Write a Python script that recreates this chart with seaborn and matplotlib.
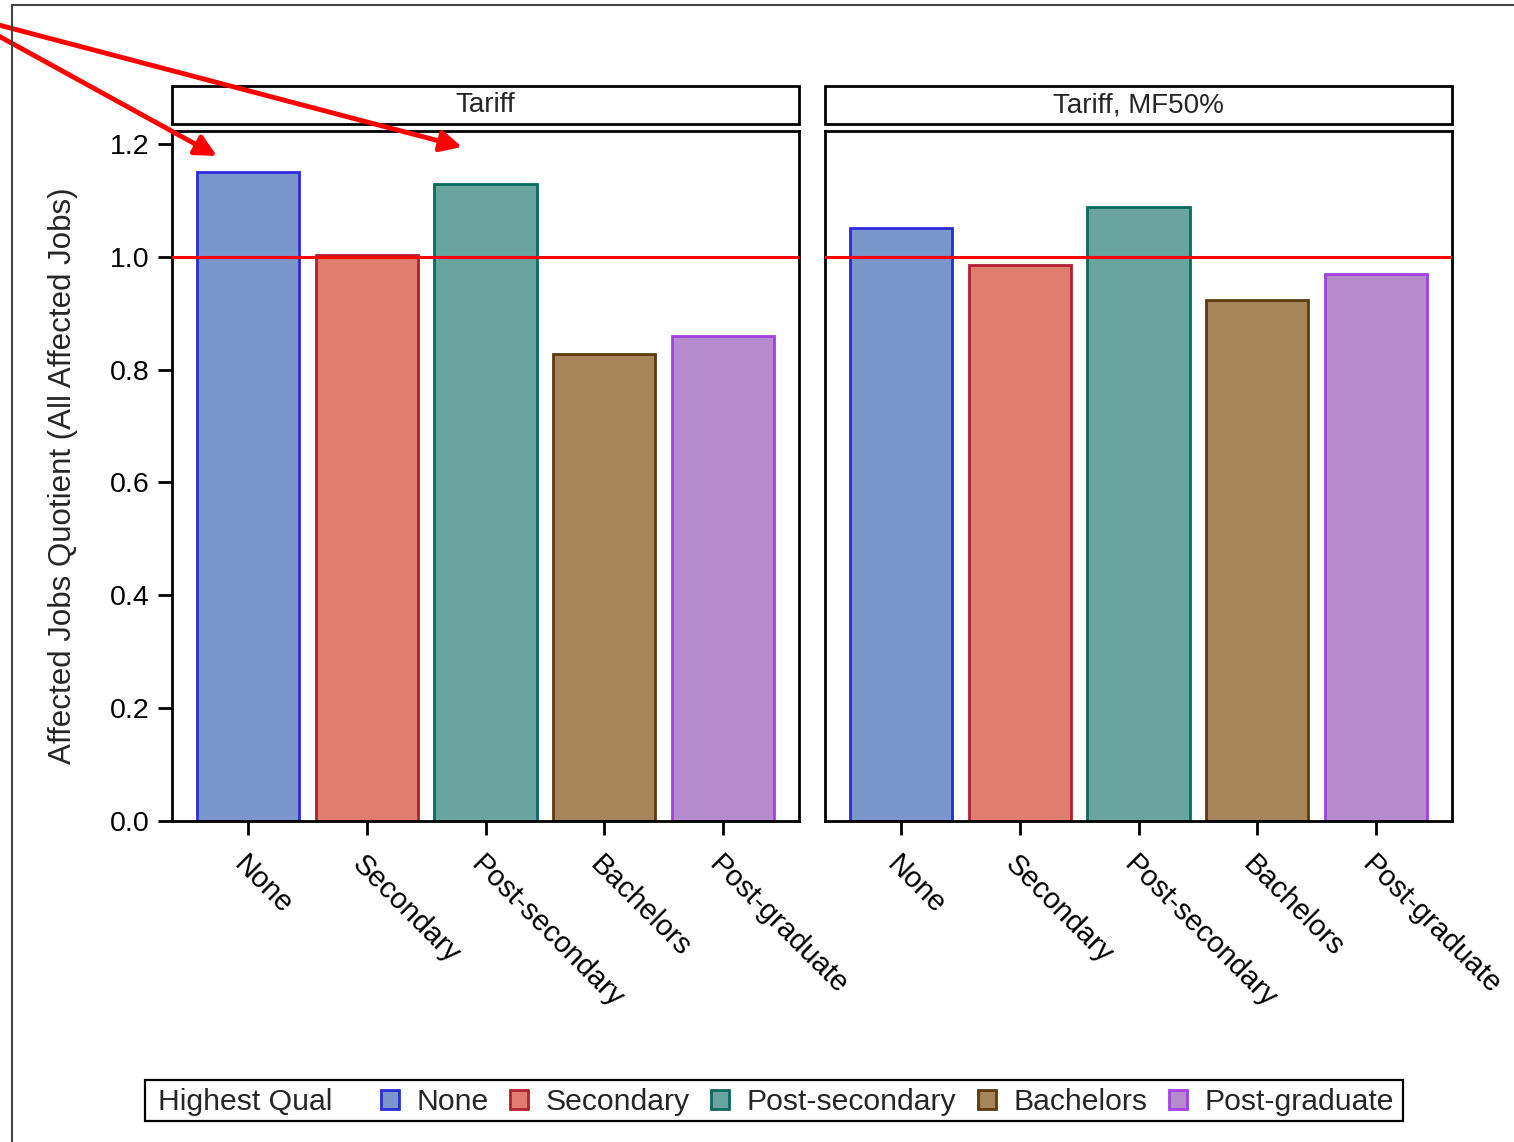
import numpy as np
import pandas as pd
import seaborn as sns
import matplotlib.pyplot as plt
from matplotlib.patches import Rectangle, Patch, FancyArrowPatch
from matplotlib.lines import Line2D

# ---- data -----------------------------------------------------------------
qualifications = ["None", "Secondary", "Post-secondary", "Bachelors", "Post-graduate"]
scenarios = ["Tariff", "Tariff, MF50%"]
tariff_quotient = [1.150, 1.003, 1.129, 0.828, 0.860]
tariff_mf50_quotient = [1.051, 0.985, 1.088, 0.923, 0.970]
y_ticks = [0.0, 0.2, 0.4, 0.6, 0.8, 1.0, 1.2]
reference_level = 1.0

fill_colors = ["#7B96CB", "#DF7E6F", "#67A59E", "#A8845B", "#B68ACC"]
edge_colors = ["#2B2BD9", "#B51E32", "#0B6A5E", "#5B3B0F", "#A141E0"]

df = pd.DataFrame({
    "scenario": np.repeat(scenarios, len(qualifications)),
    "qual": qualifications * len(scenarios),
    "quotient": tariff_quotient + tariff_mf50_quotient,
})

# ---- style ----------------------------------------------------------------
sns.set_style("ticks")
plt.rcParams["font.family"] = ["Liberation Sans", "DejaVu Sans"]
plt.rcParams["axes.linewidth"] = 2.0

W, H = 1514, 1142
fig = plt.figure(figsize=(W / 100, H / 100), dpi=100)

def fx(px):
    return px / W

def fy(py):
    return 1 - py / H

ax_w = fx(799) - fx(172)
ax_h = fy(131) - fy(821)
ax1 = fig.add_axes([fx(172), fy(821), ax_w, ax_h])
ax2 = fig.add_axes([fx(825), fy(821), ax_w, ax_h])

fill_map = dict(zip(qualifications, fill_colors))

for ax, scen in zip([ax1, ax2], scenarios):
    sub = df[df["scenario"] == scen]
    sns.barplot(data=sub, x="qual", y="quotient", hue="qual", order=qualifications,
                hue_order=qualifications, palette=fill_map, dodge=False,
                width=0.86, saturation=1, legend=False, ax=ax)
    for p in ax.patches:
        idx = int(round(p.get_x() + p.get_width() / 2))
        p.set_edgecolor(edge_colors[idx])
        p.set_linewidth(2.0)
    ax.axhline(reference_level, color="#FF0000", lw=2.2, zorder=5)
    ax.set_xlim(-0.639, 4.639)
    ax.set_ylim(0, 1.223)
    ax.set_yticks(y_ticks)
    ax.set_xlabel("")
    ax.set_ylabel("")
    for s in ax.spines.values():
        s.set_visible(True)
        s.set_color("black")
        s.set_linewidth(2.0)
    ax.tick_params(axis="x", length=10, width=2.0, direction="out", pad=11,
                   labelsize=21, colors="black")
    ax.tick_params(axis="y", length=10, width=2.0, direction="out", pad=6,
                   labelsize=20.5, colors="black")
    ax.set_xticks(range(len(qualifications)))
    ax.set_xticklabels(qualifications, rotation=-45, ha="left", va="top",
                       rotation_mode="anchor")
    # panel header strip
    ax.add_patch(Rectangle((0, 1.0101), 1, 0.0551, transform=ax.transAxes,
                           facecolor="white", edgecolor="black", lw=2.0,
                           clip_on=False))
    ax.text(0.5, 1.0376, scen, transform=ax.transAxes, ha="center", va="center",
            fontsize=20)

ax1.yaxis.set_major_formatter(plt.FormatStrFormatter("%.1f"))
ax2.tick_params(axis="y", left=False, labelleft=False)
ax1.set_ylabel("Affected Jobs Quotient (All Affected Jobs)", fontsize=22.5, labelpad=23)

# ---- legend ---------------------------------------------------------------
handles = [Patch(facecolor=f, edgecolor=e, lw=2.0) for f, e in zip(fill_colors, edge_colors)]
leg = fig.legend(handles, qualifications, ncol=5, frameon=False, fontsize=21.7,
                 loc="center left", bbox_to_anchor=(fx(381), fy(1102)),
                 borderpad=0, borderaxespad=0, handlelength=0.6, handleheight=0.6,
                 handletextpad=0.58, columnspacing=0.71)
fig.text(fx(158), fy(1102), "Highest Qual", fontsize=21.7, ha="left", va="center")
fig.add_artist(Rectangle((fx(145), fy(1121)), fx(1403) - fx(145), fy(1080) - fy(1121),
                         transform=fig.transFigure, facecolor="none",
                         edgecolor="black", lw=1.6))

# ---- outer frame lines ----------------------------------------------------
fig.add_artist(Line2D([fx(12), 1.0], [fy(5), fy(5)], transform=fig.transFigure,
                      color="#444444", lw=1.5))
fig.add_artist(Line2D([fx(12), fx(12)], [fy(5), 0.0], transform=fig.transFigure,
                      color="#444444", lw=1.5))

# ---- red callout arrows ---------------------------------------------------
for (x0, y0), (x1, y1) in [((-5, 34), (217, 156)), ((-5, 24), (462, 147))]:
    arr = FancyArrowPatch((fx(x0), fy(y0)), (fx(x1), fy(y1)),
                          transform=fig.transFigure, arrowstyle="-|>",
                          mutation_scale=32, color="#FF0000", lw=3.5,
                          shrinkA=0, shrinkB=0)
    fig.add_artist(arr)

fig.savefig("out.png", dpi=100)
